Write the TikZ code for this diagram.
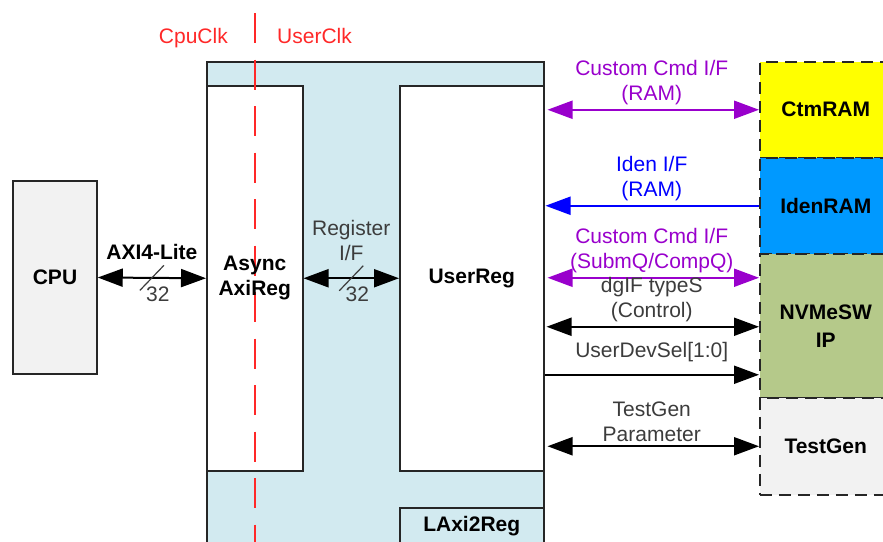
\documentclass[tikz,border=0pt]{standalone}
\usepackage{fontspec}
\setmainfont{Liberation Sans}
\usepackage{xcolor}
\usetikzlibrary{arrows.meta,positioning}

\definecolor{regblue}{RGB}{210,234,240}
\definecolor{cmdpurple}{RGB}{153,0,204}
\definecolor{idenblue}{RGB}{0,0,255}
\definecolor{clkred}{RGB}{255,40,40}
\definecolor{ramyellow}{RGB}{255,255,0}
\definecolor{ramblue}{RGB}{0,153,255}
\definecolor{nvmegreen}{RGB}{181,201,138}
\definecolor{boxgray}{RGB}{242,242,242}
\definecolor{txtgray}{RGB}{60,60,60}

\newcommand\figfont{\fontsize{21}{25}\selectfont}

\tikzset{
  blk/.style={draw=black!85, line width=1.5pt, inner sep=0pt, align=center, font=\figfont\bfseries, text=black},
  ext/.style={blk, dash pattern=on 12pt off 7pt},
  sig/.style={line width=2pt, -{Triangle[length=25pt,width=18pt]}},
  dsig/.style={line width=2pt, {Triangle[length=25pt,width=18pt]}-{Triangle[length=25pt,width=18pt]}},
  lbl/.style={above=4pt, inner sep=0pt, align=center, text=txtgray},
}

\begin{document}
\begin{tikzpicture}[x=1pt,y=-1pt,every node/.style={font=\figfont}]
\useasboundingbox (0,0) rectangle (883,541);
\clip (0,0) rectangle (883,541);

% LAxi2Reg
\node[blk, fill=regblue, minimum width=337pt, minimum height=484pt, anchor=north west] (laxi) at (206,61) {};
\node[blk, fill=white, minimum width=96pt, minimum height=385pt, anchor=north west] (async) at (206,85) {};
\node[blk, fill=white, minimum width=144pt, minimum height=385pt, anchor=north west] (userreg) at (399,85) {UserReg};
\node[blk, fill=regblue, minimum width=144pt, minimum height=36pt, anchor=north west] (lbox) at (399,507) {LAxi2Reg};

\node[blk, fill=boxgray, minimum width=84pt, minimum height=193pt] (cpu) at (55,277.5) {CPU};

\foreach \nm/\col/\txt/\ya/\yb in {ctm/ramyellow/CtmRAM/61/157, iden/ramblue/IdenRAM/157/253,
    nvme/nvmegreen/{NVMeSW\\[3pt]IP}/253/397, tgen/boxgray/TestGen/397/494}
  \node[ext, fill=\col, minimum width=132pt, minimum height=\yb-\ya, anchor=north west] (\nm) at (759,\ya) {\txt};

% clock domains
\coordinate (clk) at (async.north |- 0,13);
\draw[clkred, line width=2pt, dash pattern=on 30pt off 16.5pt] (clk) -- (clk |- laxi.south);
\node[text=clkred, inner sep=0pt, anchor=base east] (cpuclk) at (228,43) {CpuClk};
\node[text=clkred, inner sep=0pt, anchor=base west] (userclk) at (277,43) {UserClk};
\node[blk, draw=none] (asynctxt) at (async.center) {Async\\AxiReg};

\draw[dsig] (cpu.east) -- (async.west) coordinate[midway] (axim)
  node[lbl, midway, above=17pt, font=\figfont\bfseries, text=black] {AXI4-Lite};
\draw[dsig] (async.east) -- (userreg.west) coordinate[midway] (regm)
  node[lbl, midway, above=17pt] {Register\\I/F};
\foreach \m in {axim,regm}{
\draw[line width=1.2pt, txtgray] ([shift={(-12,12.5)}]\m) -- ([shift={(12,-12.5)}]\m);
\node[text=txtgray, inner sep=0pt] at ([shift={(6,16.5)}]\m) {32};
}

\coordinate (nv1) at ([yshift=48pt]nvme.west);
\coordinate (nv2) at ([yshift=-1pt]nvme.west);
\coordinate (nv3) at ([yshift=-49pt]nvme.west);

\draw[dsig, cmdpurple, shorten <=3pt] (userreg.east |- ctm.west) -- (ctm.west)
  node[lbl, midway, text=cmdpurple] {Custom Cmd I/F\\(RAM)};
\draw[sig, idenblue, shorten >=1pt] (iden.west) -- (userreg.east |- iden.west)
  node[lbl, midway, text=idenblue] {Iden I/F\\(RAM)};
\draw[dsig, cmdpurple, shorten <=3pt] (userreg.east |- nv1) -- (nv1)
  node[lbl, midway, text=cmdpurple] {Custom Cmd I/F\\(SubmQ/CompQ)};
\draw[dsig, shorten <=2pt] (userreg.east |- nv2) -- (nv2) node[lbl, midway] {dgIF typeS\\(Control)};
\draw[sig] (userreg.east |- nv3) -- (nv3) node[lbl, midway, above=12pt] {UserDevSel[1:0]};
\draw[dsig, shorten <=3pt] (userreg.east |- tgen.west) -- (tgen.west) node[lbl, midway] {TestGen\\Parameter};
\end{tikzpicture}
\end{document}
